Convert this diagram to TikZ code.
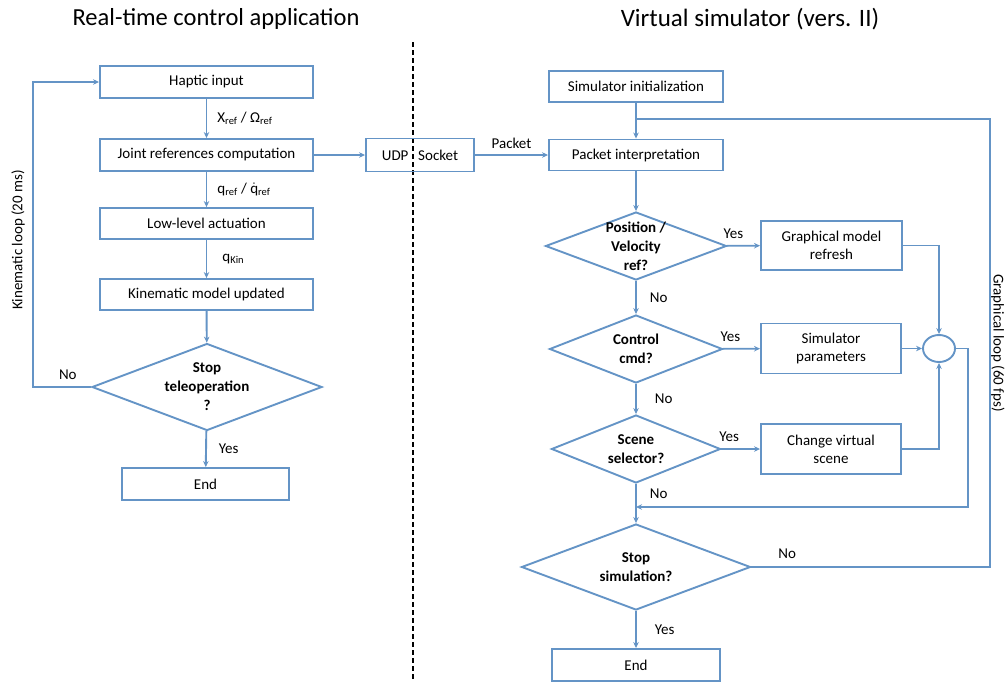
\documentclass[tikz,border=0pt]{standalone}
\usepackage{fontspec}
\setmainfont{Carlito}
\usetikzlibrary{shapes.geometric,arrows.meta}
\definecolor{flowblue}{RGB}{100,148,198}
\tikzset{
    box/.style={draw=flowblue, line width=1.9pt, align=center, inner sep=0pt},
    decision/.style={diamond, draw=flowblue, line width=1.9pt, inner sep=0pt},
    flow/.style={draw=flowblue, line width=1.9pt, -{Stealth[length=6pt,width=5.5pt]}},
    tag/.style={inner sep=0pt, text=black},
    dlabel/.style={align=center, font=\fontsize{15}{19}\selectfont\bfseries, text=black}
}
\begin{document}
\begin{tikzpicture}[x=1pt,y=-1pt,font=\fontsize{15}{18}\selectfont]
        \useasboundingbox (0,0) rectangle (1007,681);
        \node (lefttitle) at (216,19) {\fontsize{24.5}{28}\selectfont Real-time control application};
        \node (righttitle) at (750,19) {\fontsize{25}{28}\selectfont Virtual simulator (vers. II)};
        \draw [line width=1.3pt, dash pattern=on 5pt off 3pt] (413,42) -- (413,681);
        % real-time side
        \node [box, minimum width=213pt, minimum height=32pt] (haptic) at (206.5,82) {Haptic input};
        \node [box, minimum width=213pt, minimum height=32pt] (joint) at (206.5,155) {Joint references computation};
        \node [box, minimum width=213pt, minimum height=31pt] (lowlevel) at (206.5,223.5) {Low-level actuation};
        \node [box, minimum width=213pt, minimum height=31pt] (kinmodel) at (206.5,294.5) {Kinematic model updated};
        \node [decision, minimum width=230pt, minimum height=87pt,
               label={[dlabel]center:Stop\\teleoperation\\?}] (stoptele) at (207,387) {};
        \node [box, minimum width=167pt, minimum height=32pt] (endleft) at (205.5,484) {End};
        \coordinate (kinleft) at (33,0);
        \draw [flow] (haptic) -- node [tag, right=10pt] {X\textsubscript{ref} / Ω\textsubscript{ref}} (joint);
        \draw [flow] (joint) -- node [tag, right=10pt] {q\textsubscript{ref} / $\dot{\mbox{q}}$\textsubscript{ref}} (lowlevel);
        \draw [flow] (lowlevel) -- node [tag, right=15pt] {q\textsubscript{Kin}} (kinmodel);
        \draw [flow] (kinmodel) -- (stoptele);
        \draw [flow] (stoptele) -- node [tag, right=12pt] {Yes} (endleft);
        \draw [flow] (stoptele.west) -- node [tag, above=6pt, pos=.4] {No} (stoptele.west -| kinleft) |- (haptic.west);
        \node [rotate=90] (kinlabel) at (18,240) {Kinematic loop (20 ms)};
        % UDP link
        \node [box, minimum width=108pt, minimum height=33pt] (udp) at (420,155) {UDP\hspace{0.65em}Socket};
        \draw [flow] (joint) -- (udp);
        % simulator side
        \node [box, minimum width=174pt, minimum height=31pt] (siminit) at (636,86.5) {Simulator initialization};
        \node [box, minimum width=174pt, minimum height=31pt] (packet) at (636,155) {Packet interpretation};
        \draw [flow] (udp) -- node [tag, above=5pt] {Packet} (packet);
        \node [decision, minimum width=181pt, minimum height=68pt,
               label={[dlabel]center:Position /\\Velocity\\ref?}] (posvel) at (636,246) {};
        \node [box, minimum width=141pt, minimum height=49pt] (graphref) at (831.5,245.5) {Graphical model\\refresh};
        \node [decision, minimum width=173pt, minimum height=68pt,
               label={[dlabel]center:Control\\cmd?}] (ctrl) at (636,349) {};
        \node [box, minimum width=140pt, minimum height=50pt] (simparam) at (831,348.5) {Simulator\\parameters};
        \node [ellipse, draw=flowblue, line width=1.9pt, minimum width=32pt, minimum height=27pt] (merge) at (939,348.5) {};
        \node [decision, minimum width=169pt, minimum height=68pt,
               label={[dlabel]center:Scene\\selector?}] (scene) at (636,449) {};
        \node [box, minimum width=140pt, minimum height=50pt] (changescene) at (831,449) {Change virtual\\scene};
        \node [decision, minimum width=229pt, minimum height=86pt,
               label={[dlabel]center:Stop\\simulation?}] (stopsim) at (636,567) {};
        \node [box, minimum width=168pt, minimum height=32pt] (endright) at (636,665) {End};
        \coordinate (grtop) at (990,119);
        \coordinate (mright) at (968,507);
        \coordinate (join) at (636,507);
        \draw [flow] (siminit) -- (packet);
        \draw [flow] (packet) -- (posvel);
        \draw [flow] (posvel) -- node [tag, above=6pt, pos=.2] {Yes} (graphref);
        \draw [flow] (posvel) -- node [tag, right=13pt] {No} (ctrl);
        \draw [flow] (ctrl) -- node [tag, above=6pt, pos=.2] {Yes} (simparam);
        \draw [flow] (ctrl) -- node [tag, right=18pt] {No} (scene);
        \draw [flow] (scene) -- node [tag, above=6pt, pos=.2] {Yes} (changescene);
        \draw [flow] (scene) -- node [tag, right=13pt, pos=.25] {No} (stopsim);
        \draw [flow] (stopsim) -- node [tag, right=18pt] {Yes} (endright);
        \draw [flow] (graphref.east) -| (merge.north);
        \draw [flow] (simparam) -- (merge);
        \draw [flow] (changescene.east) -| (merge.south);
        \draw [flow] (merge.east) -| (mright) -- (join);
        \draw [draw=flowblue, line width=1.9pt] (stopsim.east) -- node [tag, above=7pt, pos=.15] {No} (stopsim.east -| grtop) -- (grtop) -- (siminit.south |- grtop);
        \node [rotate=-90] (grlabel) at (998,343) {Graphical loop (60 fps)};
\end{tikzpicture}
\end{document}
